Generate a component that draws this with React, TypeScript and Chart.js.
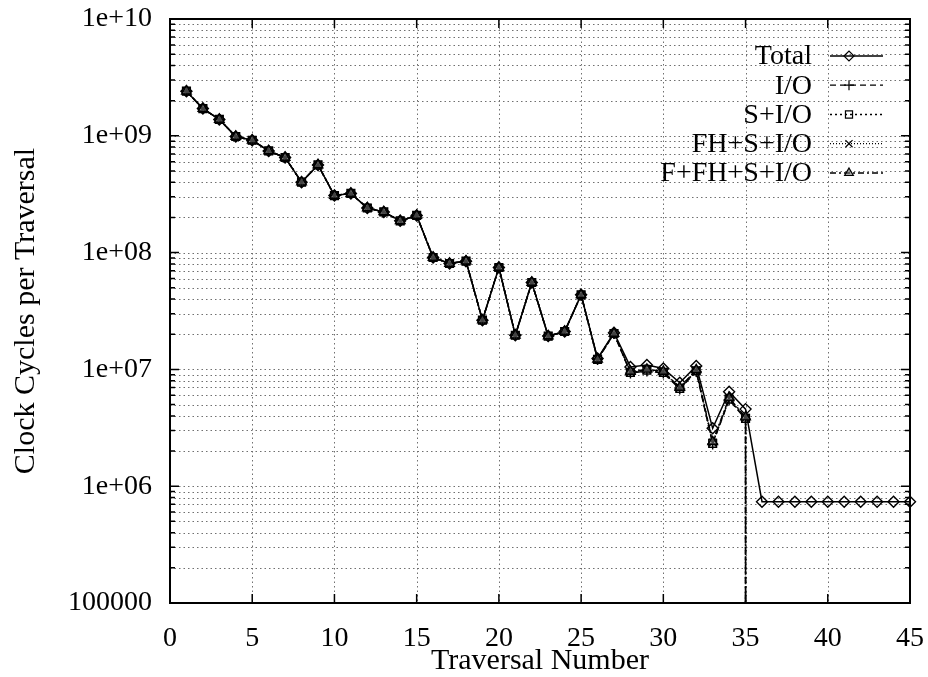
import React, { useEffect, useRef } from "react";
import { Chart, registerables } from "chart.js";
import { drawPoint } from "chart.js/helpers";

Chart.register(...registerables);

// ---- data ----
const traversalTotal = [
  1, 2, 3, 4, 5, 6, 7, 8, 9, 10, 11, 12, 13, 14, 15, 16, 17, 18, 19, 20, 21, 22, 23,
  24, 25, 26, 27, 28, 29, 30, 31, 32, 33, 34, 35, 36, 37, 38, 39, 40, 41, 42, 43, 44, 45,
];
const traversalParts = [
  1, 2, 3, 4, 5, 6, 7, 8, 9, 10, 11, 12, 13, 14, 15, 16, 17, 18, 19, 20, 21, 22, 23,
  24, 25, 26, 27, 28, 29, 30, 31, 32, 33, 34, 35, 35,
];

// value below the axis floor: the parts drop off the plot after traversal 35
const BELOW_AXIS = 1;

const totalCycles = [
  2.41e9, 1.71e9, 1.38e9, 9.86e8, 9.16e8, 7.42e8, 6.52e8, 4.01e8, 5.63e8, 3.08e8,
  3.21e8, 2.41e8, 2.23e8, 1.87e8, 2.08e8, 9.08e7, 8.07e7, 8.45e7, 2.64e7, 7.46e7,
  1.96e7, 5.55e7, 1.93e7, 2.11e7, 4.35e7, 1.24e7, 2.06e7, 1.05e7, 1.09e7, 1.02e7,
  7.68e6, 1.07e7, 3.13e6, 6.43e6, 4.57e6, 7.36e5, 7.36e5, 7.36e5, 7.36e5, 7.36e5,
  7.36e5, 7.36e5, 7.36e5, 7.36e5, 7.36e5,
];
const ioCycles = [
  2.41e9, 1.71e9, 1.38e9, 9.86e8, 9.16e8, 7.42e8, 6.52e8, 4.01e8, 5.63e8, 3.08e8,
  3.21e8, 2.41e8, 2.23e8, 1.87e8, 2.08e8, 9.08e7, 8.07e7, 8.45e7, 2.64e7, 7.46e7,
  1.96e7, 5.55e7, 1.93e7, 2.11e7, 4.35e7, 1.22e7, 2.03e7, 9.3e6, 9.7e6, 9.3e6,
  6.8e6, 9.6e6, 2.3e6, 5.5e6, 3.75e6, BELOW_AXIS,
];
const sIoCycles = [
  2.41e9, 1.71e9, 1.38e9, 9.86e8, 9.16e8, 7.42e8, 6.52e8, 4.01e8, 5.63e8, 3.08e8,
  3.21e8, 2.41e8, 2.23e8, 1.87e8, 2.08e8, 9.08e7, 8.07e7, 8.45e7, 2.64e7, 7.46e7,
  1.96e7, 5.55e7, 1.93e7, 2.11e7, 4.35e7, 1.22e7, 2.03e7, 9.42e6, 9.86e6, 9.42e6,
  6.88e6, 9.72e6, 2.33e6, 5.57e6, 3.81e6, BELOW_AXIS,
];
const fhSIoCycles = [
  2.41e9, 1.71e9, 1.38e9, 9.86e8, 9.16e8, 7.42e8, 6.52e8, 4.01e8, 5.63e8, 3.08e8,
  3.21e8, 2.41e8, 2.23e8, 1.87e8, 2.08e8, 9.08e7, 8.07e7, 8.45e7, 2.64e7, 7.46e7,
  1.96e7, 5.55e7, 1.93e7, 2.11e7, 4.35e7, 1.22e7, 2.03e7, 9.5e6, 9.9e6, 9.5e6,
  6.95e6, 9.8e6, 2.36e6, 5.62e6, 3.85e6, BELOW_AXIS,
];
const fFhSIoCycles = [
  2.41e9, 1.71e9, 1.38e9, 9.86e8, 9.16e8, 7.42e8, 6.52e8, 4.01e8, 5.63e8, 3.08e8,
  3.21e8, 2.41e8, 2.23e8, 1.87e8, 2.08e8, 9.08e7, 8.07e7, 8.45e7, 2.64e7, 7.46e7,
  1.96e7, 5.55e7, 1.93e7, 2.11e7, 4.35e7, 1.22e7, 2.03e7, 9.6e6, 1.0e7, 9.6e6,
  7.0e6, 9.9e6, 2.4e6, 5.7e6, 3.9e6, BELOW_AXIS,
];

const seriesNames = ["Total", "I/O", "S+I/O", "FH+S+I/O", "F+FH+S+I/O"];

const xTickValues = [0, 5, 10, 15, 20, 25, 30, 35, 40, 45];
const yTickValues = [1e5, 1e6, 1e7, 1e8, 1e9, 1e10];
const yTickLabels = ["100000", "1e+06", "1e+07", "1e+08", "1e+09", "1e+10"];
const yMinorMultipliers = [2, 3, 4, 5, 6, 7, 8, 9];

const FONT = "'Liberation Serif', 'Times New Roman', serif";

function pts(xs: number[], ys: number[]) {
  return ys.map((y, i) => ({ x: xs[i], y }));
}

const framePlugin = {
  id: "gnuplotFrame",
  beforeDatasetsDraw(chart: any) {
    const { ctx, chartArea: a, scales } = chart;
    const xs = scales.x;
    const ys = scales.y;
    ctx.save();
    ctx.strokeStyle = "#707070";
    ctx.lineWidth = 1;
    ctx.setLineDash([1.5, 3]);
    xTickValues.forEach((v) => {
      const px = Math.round(xs.getPixelForValue(v)) + 0.5;
      if (px <= a.left + 1 || px >= a.right - 1) return;
      ctx.beginPath();
      ctx.moveTo(px, a.top);
      ctx.lineTo(px, a.bottom);
      ctx.stroke();
    });
    for (let i = 0; i < yTickValues.length; i++) {
      const dec = yTickValues[i];
      const vals = [dec];
      if (i < yTickValues.length - 1) yMinorMultipliers.forEach((m) => vals.push(m * dec));
      vals.forEach((v) => {
        const py = Math.round(ys.getPixelForValue(v)) + 0.5;
        if (py <= a.top + 1 || py >= a.bottom - 1) return;
        ctx.beginPath();
        ctx.moveTo(a.left, py);
        ctx.lineTo(a.right, py);
        ctx.stroke();
      });
    }
    ctx.restore();
  },
  afterDatasetsDraw(chart: any) {
    const { ctx, chartArea: a, scales } = chart;
    const xs = scales.x;
    const ys = scales.y;
    ctx.save();
    ctx.setLineDash([]);
    ctx.strokeStyle = "#000";
    ctx.lineWidth = 1.5;
    ctx.beginPath();
    xTickValues.forEach((v) => {
      const px = xs.getPixelForValue(v);
      ctx.moveTo(px, a.bottom);
      ctx.lineTo(px, a.bottom - 9);
      ctx.moveTo(px, a.top);
      ctx.lineTo(px, a.top + 9);
    });
    for (let i = 0; i < yTickValues.length; i++) {
      const dec = yTickValues[i];
      const py = ys.getPixelForValue(dec);
      ctx.moveTo(a.left, py);
      ctx.lineTo(a.left + 9, py);
      ctx.moveTo(a.right, py);
      ctx.lineTo(a.right - 9, py);
      if (i < yTickValues.length - 1) {
        yMinorMultipliers.forEach((m) => {
          const q = ys.getPixelForValue(m * dec);
          ctx.moveTo(a.left, q);
          ctx.lineTo(a.left + 5, q);
          ctx.moveTo(a.right, q);
          ctx.lineTo(a.right - 5, q);
        });
      }
    }
    ctx.stroke();
    ctx.lineWidth = 2;
    ctx.strokeRect(a.left, a.top, a.right - a.left, a.bottom - a.top);
    ctx.restore();
  },
  afterDraw(chart: any) {
    const { ctx } = chart;
    const rowY = [56, 85.2, 114.5, 143.7, 173];
    ctx.save();
    ctx.font = `28px ${FONT}`;
    ctx.fillStyle = "#000";
    ctx.textAlign = "right";
    ctx.textBaseline = "middle";
    chart.data.datasets.forEach((ds: any, i: number) => {
      const y = rowY[i];
      ctx.fillText(ds.label, 812, y + 1);
      ctx.save();
      ctx.strokeStyle = "#000";
      ctx.lineWidth = 1.3;
      ctx.setLineDash(ds.borderDash || []);
      ctx.beginPath();
      ctx.moveTo(830, y);
      ctx.lineTo(883, y);
      ctx.stroke();
      ctx.setLineDash([]);
      ctx.fillStyle = ds.pointBackgroundColor;
      ctx.strokeStyle = "#000";
      ctx.lineWidth = 1.2;
      drawPoint(ctx, { pointStyle: ds.pointStyle, radius: 5, borderWidth: 1.2, rotation: 0 }, 849, y);
      ctx.restore();
    });
    ctx.restore();
  },
};

const hideOffAxis = (c: any) => (c.raw && c.raw.y < 1e5 ? 0 : 5.5);

export default function App() {
  const ref = useRef<HTMLCanvasElement>(null);
  useEffect(() => {
    if (!ref.current) return;
    const common = {
      borderColor: "#000",
      pointBorderColor: "#000",
      pointBorderWidth: 1.4,
      pointRadius: hideOffAxis,
      borderWidth: 1.5,
      tension: 0,
      fill: false,
      clip: { left: 10, right: 10, top: 10, bottom: 0 },
    };
    const chart = new Chart(ref.current, {
      type: "line",
      data: {
        datasets: [
          {
            ...common,
            label: seriesNames[0],
            data: pts(traversalTotal, totalCycles),
            pointStyle: "rectRot",
            pointBackgroundColor: "rgba(255,255,255,0)",
            borderDash: [],
            order: 5,
          },
          {
            ...common,
            label: seriesNames[1],
            data: pts(traversalParts, ioCycles),
            pointStyle: "cross",
            pointBackgroundColor: "rgba(255,255,255,0)",
            borderDash: [6, 4],
            order: 4,
          },
          {
            ...common,
            label: seriesNames[2],
            data: pts(traversalParts, sIoCycles),
            pointStyle: "rect",
            pointBackgroundColor: "rgba(255,255,255,0)",
            borderDash: [2, 3],
            order: 3,
          },
          {
            ...common,
            label: seriesNames[3],
            data: pts(traversalParts, fhSIoCycles),
            pointStyle: "crossRot",
            pointBackgroundColor: "rgba(255,255,255,0)",
            borderDash: [1, 2],
            order: 2,
          },
          {
            ...common,
            label: seriesNames[4],
            data: pts(traversalParts, fFhSIoCycles),
            pointStyle: "triangle",
            pointBackgroundColor: "rgba(110,110,110,0.6)",
            borderDash: [6, 3, 2, 3],
            order: 1,
          },
        ],
      },
      options: {
        animation: false,
        responsive: false,
        devicePixelRatio: 1,
        layout: { padding: { top: 19, right: 18, left: 0, bottom: 0 } },
        plugins: { legend: { display: false }, tooltip: { enabled: false } },
        scales: {
          x: {
            type: "linear",
            min: 0,
            max: 45,
            grid: { display: false, drawTicks: false },
            border: { display: false },
            afterBuildTicks: (s: any) => {
              s.ticks = xTickValues.map((v) => ({ value: v }));
            },
            afterFit: (s: any) => {
              s.height = 74;
              s.paddingLeft = 0;
              s.paddingRight = 0;
            },
            ticks: {
              padding: 19,
              color: "#000",
              maxRotation: 0,
              font: { family: FONT, size: 28 },
              callback: (v: any) => String(v),
            },
            title: {
              display: true,
              text: "Traversal Number",
              color: "#000",
              font: { family: FONT, size: 30, lineHeight: 1.05 },
              padding: 0,
            },
          },
          y: {
            type: "logarithmic",
            min: 1e5,
            max: 1e10,
            grid: { display: false, drawTicks: false },
            border: { display: false },
            afterBuildTicks: (s: any) => {
              s.ticks = yTickValues.map((v) => ({ value: v }));
            },
            afterFit: (s: any) => {
              s.width = 170;
              s.paddingTop = 0;
              s.paddingBottom = 0;
            },
            ticks: {
              padding: 18,
              color: "#000",
              font: { family: FONT, size: 28 },
              callback: (v: any) => {
                const i = yTickValues.indexOf(Number(v));
                return i >= 0 ? yTickLabels[i] : "";
              },
            },
            title: {
              display: true,
              text: "Clock Cycles per Traversal",
              color: "#000",
              font: { family: FONT, size: 30 },
              padding: { top: 8, bottom: 0 },
            },
          },
        },
      },
      plugins: [framePlugin],
    } as any);
    return () => chart.destroy();
  }, []);
  return (
    <div style={{ position: "absolute", left: 0, top: 0, width: 928, height: 677, background: "#fff" }}>
      <canvas ref={ref} width={928} height={677} style={{ display: "block" }} />
    </div>
  );
}
